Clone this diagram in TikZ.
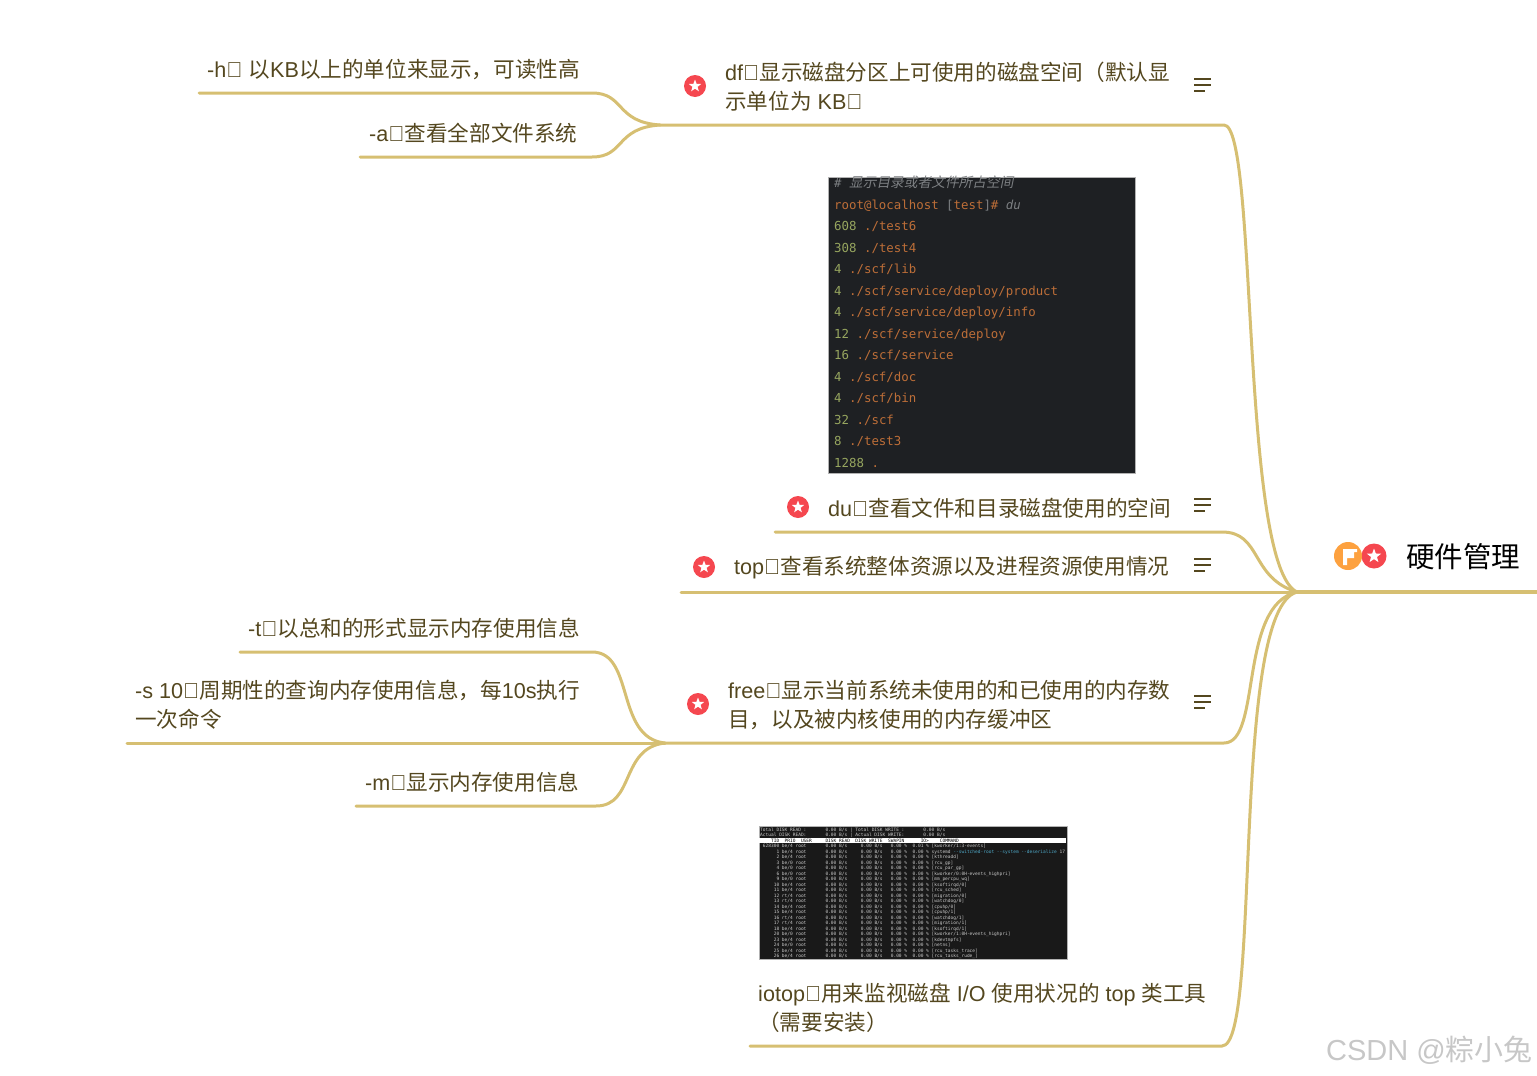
\documentclass[tikz,border=0pt]{standalone}
\usepackage{fontspec}
\usetikzlibrary{shapes.geometric}
\setmainfont{Liberation Sans}
\setmonofont{DejaVu Sans Mono}
\newfontfamily\cjk{Noto Sans CJK SC}
\newfontfamily\cjkslant[FakeSlant=0.2]{Noto Sans CJK SC}
\newcommand{\zh}[1]{{\cjk #1}}
\definecolor{branch}{HTML}{D6BF72}
\definecolor{txt}{HTML}{54471F}
\definecolor{starred}{HTML}{F5474F}
\definecolor{flagor}{HTML}{FDA13F}
\definecolor{termbg}{HTML}{1E2023}
\definecolor{tnum}{HTML}{97A65F}
\definecolor{tpath}{HTML}{BD6E38}
\definecolor{tgrey}{HTML}{7C7F82}
\definecolor{iotxt}{HTML}{C8C8C8}
\definecolor{iocy}{HTML}{4FA9C8}
\newcommand{\nm}[1]{\textcolor{tnum}{#1}}
\newcommand{\pt}[1]{\textcolor{tpath}{#1}}
\newcommand{\rowd}[2]{\nm{#1} \pt{#2}}
\def\iostat{root~~~~~~~0.00~B/s~~~~~0.00~B/s~~~0.00~\%~~0.00~\%~}
\tikzset{
  x=1pt,y=-1pt,
  textnode/.style={anchor=west,align=left,inner sep=0pt,text=txt,font=\fontsize{21.6}{29}\selectfont},
  rootnode/.style={anchor=west,inner sep=0pt,text=black,font=\fontsize{28.5}{34}\selectfont},
  limb/.style={draw=branch,line width=3pt,line cap=round},
  trunk/.style={draw=branch,line width=4.5pt},
  stardisc/.style={circle,fill=starred,minimum size=22pt,inner sep=0pt},
  starmark/.style={star,star points=5,star point ratio=2.4,fill=white,minimum size=13pt,inner sep=0pt},
  burger/.style={draw=txt,line width=1.3pt},
  termshot/.style={fill=termbg,draw=gray!60,line width=.5pt},
}
\newcommand{\staricon}[2]{\node[stardisc] (#1) at (#2) {}; \node[starmark] (#1s) at (#1) {};}
\newcommand{\burgericon}[2]{%
  \draw[burger] (1194,#2-6) -- (1211,#2-6);
  \draw[burger] (1194,#2) -- (1211,#2);
  \draw[burger] (1194,#2+6) -- (1205,#2+6);}
\begin{document}
\begin{tikzpicture}
\useasboundingbox (0,0) rectangle (1537,1076);
% hubs
\coordinate (hub) at (1297,592);
\coordinate (rootend) at (1537,592);
\coordinate (dfL) at (660,125);
\coordinate (dfR) at (1224,125);
\coordinate (freeL) at (665,743);
\coordinate (freeR) at (1224,743);
\coordinate (duL) at (775,532);
\coordinate (duR) at (1222,532);
\coordinate (topL) at (681,592);
\coordinate (ioL) at (750,1046);
\coordinate (ioR) at (1222,1046);
\coordinate (hE) at (199,93);
\coordinate (hR) at (592,93);
\coordinate (aE) at (360,157);
\coordinate (aR) at (592,157);
\coordinate (tE) at (240,652);
\coordinate (tR) at (592,652);
\coordinate (sE) at (127,743);
\coordinate (mE) at (356,806);
\coordinate (mR) at (596,806);
% connectors
\draw[trunk] (hub) -- (rootend);
\draw[limb] (dfL) -- (dfR) .. controls (1258,125) and (1240,565) .. (hub);
\draw[limb] (duL) -- (duR) .. controls (1262,532) and (1250,578) .. (hub);
\draw[limb] (topL) -- (hub);
\draw[limb] (freeL) -- (freeR) .. controls (1262,743) and (1238,605) .. (hub);
\draw[limb] (ioL) -- (ioR) .. controls (1262,1046) and (1230,610) .. (hub);
\draw[limb] (hE) -- (hR) .. controls (625,93) and (615,122) .. (dfL);
\draw[limb] (aE) -- (aR) .. controls (625,157) and (615,128) .. (dfL);
\draw[limb] (tE) -- (tR) .. controls (635,652) and (615,738) .. (freeL);
\draw[limb] (sE) -- (freeL);
\draw[limb] (mE) -- (mR) .. controls (635,806) and (620,748) .. (freeL);
% root
\node[circle,fill=starred,minimum size=25pt,inner sep=0pt] (rootstar) at (1374,556) {};
\node[starmark,minimum size=15pt] (rootstars) at (rootstar) {};
\node[circle,fill=flagor,minimum size=28pt,inner sep=0pt] (rootflag) at (1348,556) {};
\fill[white] (1343,549) -- (1357,549) -- (1357,552) -- (1354,552) -- (1354,558) -- (1347,558) -- (1347,565) -- (1343,565) -- cycle;
\node[rootnode] (root) at (1406,557) {\zh{硬件管理}};
% df
\staricon{dfstar}{695,86}
\node[textnode] (df) at (725,87) {df：\zh{显示磁盘分区上可使用的磁盘空间（默认显}\\\zh{示单位为} KB）};
\burgericon{dfb}{85}
\node[textnode] (h) at (207,70) {-h： \zh{以}KB\zh{以上的单位来显示，可读性高}};
\node[textnode] (a) at (369,133) {-a：\zh{查看全部文件系统}};
% du shot
\node[termshot,anchor=north west,minimum width=307pt,minimum height=296pt,inner sep=0pt] (dushot) at (828,177) {};
\node[anchor=north west,align=left,inner sep=0pt,font=\ttfamily\fontsize{12.4}{21.5}\selectfont] (dutext) at (834,176) {%
\textcolor{tgrey}{\textit{\#} {\cjkslant\fontsize{13.7}{21.5}\selectfont 显示目录或者文件所占空间}}\\
\pt{root@localhost} \textcolor{tgrey}{[}\pt{test}\textcolor{tgrey}{]}\pt{\#} \textcolor{tgrey}{\textit{du}}\\
\rowd{608}{./test6}\\
\rowd{308}{./test4}\\
\rowd{4}{./scf/lib}\\
\rowd{4}{./scf/service/deploy/product}\\
\rowd{4}{./scf/service/deploy/info}\\
\rowd{12}{./scf/service/deploy}\\
\rowd{16}{./scf/service}\\
\rowd{4}{./scf/doc}\\
\rowd{4}{./scf/bin}\\
\rowd{32}{./scf}\\
\rowd{8}{./test3}\\
\rowd{1288}{.}};
% du
\staricon{dustar}{798,507}
\node[textnode] (du) at (828,508) {du：\zh{查看文件和目录磁盘使用的空间}};
\burgericon{dub}{505}
% top
\staricon{topstar}{704,567}
\node[textnode] (top) at (734,568) {top：\zh{查看系统整体资源以及进程资源使用情况}};
\burgericon{topb}{565}
% free
\staricon{freestar}{698,704}
\node[textnode] (free) at (728,705) {free：\zh{显示当前系统未使用的和已使用的内存数}\\\zh{目，以及被内核使用的内存缓冲区}};
\burgericon{freeb}{702}
\node[textnode] (t) at (248,628) {-t：\zh{以总和的形式显示内存使用信息}};
\node[textnode] (s) at (135,705) {-s 10：\zh{周期性的查询内存使用信息，每}10s\zh{执行}\\\zh{一次命令}};
\node[textnode] (m) at (365,782) {-m：\zh{显示内存使用信息}};
% iotop shot
\node[termshot,fill=black!90,anchor=north west,minimum width=308pt,minimum height=133pt,inner sep=0pt] (ioshot) at (758.5,826) {};
\fill[white] (759,837.5) rectangle (1066,843);
\node[anchor=north west,align=left,inner sep=0pt,text=iotxt,font=\ttfamily\fontsize{4.52}{5.5}\selectfont] (iotext) at (760,827.5) {%
Total~DISK~READ~:~~~~~~~0.00~B/s~|~Total~DISK~WRITE~:~~~~~~~0.00~B/s\\
Actual~DISK~READ:~~~~~~~0.00~B/s~|~Actual~DISK~WRITE:~~~~~~~0.00~B/s\\
\textcolor{black}{~~~~TID~~PRIO~~USER~~~~~DISK~READ~~DISK~WRITE~~SWAPIN~~~~~~IO>~~~~COMMAND}\\
~628300~be/4~root~~~~~~~0.00~B/s~~~~~0.00~B/s~~~0.00~\%~~0.01~\%~[kworker/1:3-events]\\
~~~~~~1~be/4~\iostat systemd~\textcolor{iocy}{--switched-root~--system~--deserialize}~17\\
~~~~~~2~be/4~\iostat [kthreadd]\\
~~~~~~3~be/0~\iostat [rcu\_gp]\\
~~~~~~4~be/0~\iostat [rcu\_par\_gp]\\
~~~~~~6~be/0~\iostat [kworker/0:0H-events\_highpri]\\
~~~~~~9~be/0~\iostat [mm\_percpu\_wq]\\
~~~~~10~be/4~\iostat [ksoftirqd/0]\\
~~~~~11~be/4~\iostat [rcu\_sched]\\
~~~~~12~rt/4~\iostat [migration/0]\\
~~~~~13~rt/4~\iostat [watchdog/0]\\
~~~~~14~be/4~\iostat [cpuhp/0]\\
~~~~~15~be/4~\iostat [cpuhp/1]\\
~~~~~16~rt/4~\iostat [watchdog/1]\\
~~~~~17~rt/4~\iostat [migration/1]\\
~~~~~18~be/4~\iostat [ksoftirqd/1]\\
~~~~~20~be/0~\iostat [kworker/1:0H-events\_highpri]\\
~~~~~23~be/4~\iostat [kdevtmpfs]\\
~~~~~24~be/0~\iostat [netns]\\
~~~~~25~be/4~\iostat [rcu\_tasks\_trace]\\
~~~~~26~be/4~\iostat [rcu\_tasks\_rude\_]};
% iotop
\node[textnode] (io) at (758,1008) {iotop：\zh{用来监视磁盘} I/O \zh{使用状况的} top \zh{类工具}\\\zh{（需要安装）}};
% watermark
\node[anchor=east,inner sep=0pt,text=black!22,font=\fontsize{29}{34}\selectfont] (wm) at (1533,1050) {CSDN @\zh{粽小兔}};
\end{tikzpicture}
\end{document}
